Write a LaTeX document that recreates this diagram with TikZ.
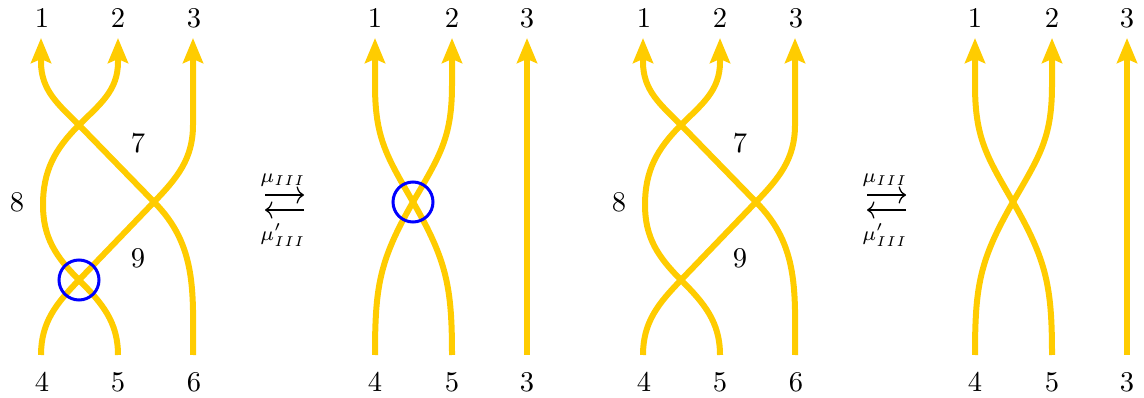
\documentclass[tikz,border=0pt]{standalone}
\usepackage{amsmath}
\usetikzlibrary{arrows.meta}
\definecolor{strandyellow}{RGB}{255,204,0}
\definecolor{ringblue}{RGB}{0,0,255}
\tikzset{
  strand/.style={line width=2.1pt, draw=strandyellow},
  tipstrand/.style={strand, -{Stealth[length=8.75pt,width=7pt,inset=1.4pt]}},
  lab/.style={inner sep=0pt},
  movelab/.style={inner sep=0pt, font=\scriptsize},
  movearrow/.style={line width=0.45pt, -{To[length=2.6pt,width=6pt]}},
  ring/.style={draw=ringblue, line width=1.05pt, circle, minimum size=14pt, inner sep=0pt},
}
\newcommand\mydiagThree[1]{%
  \coordinate (bA#1) at (41,-355);
  \coordinate (bB#1) at (118,-355);
  \coordinate (bC#1) at (193,-355);
  \coordinate (tA#1) at (193,-38);
  \coordinate (tB#1) at (118,-38);
  \coordinate (tC#1) at (41,-38);
  \coordinate (xa#1) at (79,-280);
  \coordinate (xb#1) at (154,-202);
  \coordinate (xc#1) at (79,-125);
  \coordinate (kA#1) at (193,-125);
  \coordinate (wB#1) at (43,-205);
  \coordinate (nB#1) at (118,-62);
  \coordinate (nC#1) at (41,-62);
  \draw[tipstrand] (bA#1) to[out=90,in=226] (xa#1) -- (xb#1) to[out=46,in=-90] (kA#1) -- (tA#1);
  \draw[tipstrand] (bB#1) to[out=90,in=-45] (xa#1) to[out=135,in=-90] (wB#1) to[out=90,in=225] (xc#1) to[out=45,in=-90] (nB#1) -- (tB#1);
  \draw[tipstrand] (bC#1) to[out=90,in=-45] (xb#1) -- (xc#1) to[out=135,in=-90] (nC#1) -- (tC#1);
  \node[lab] (la#1) at (42,-18) {1};
  \node[lab] (lb#1) at (118,-18) {2};
  \node[lab] (lc#1) at (194,-18) {3};
  \node[lab] (ld#1) at (42,-382) {4};
  \node[lab] (le#1) at (118,-382) {5};
  \node[lab] (lf#1) at (194,-382) {6};
  \node[lab] (lg#1) at (138,-143) {7};
  \node[lab] (lh#1) at (17,-202) {8};
  \node[lab] (li#1) at (138,-258) {9};
}
\newcommand\mydiagTwo[1]{%
  \coordinate (bA#1) at (375,-355);
  \coordinate (bB#1) at (452,-355);
  \coordinate (bC#1) at (527,-355);
  \coordinate (tA#1) at (452,-38);
  \coordinate (tB#1) at (375,-38);
  \coordinate (tC#1) at (527,-38);
  \coordinate (x#1) at (413,-202);
  \coordinate (nA#1) at (452,-85);
  \coordinate (nB#1) at (375,-85);
  \draw[tipstrand] (bA#1) to[out=90,in=240,looseness=1.1] (x#1) to[out=60,in=-90,looseness=1.1] (nA#1) -- (tA#1);
  \draw[tipstrand] (bB#1) to[out=90,in=-60,looseness=1.1] (x#1) to[out=120,in=-90,looseness=1.1] (nB#1) -- (tB#1);
  \draw[tipstrand] (bC#1) -- (tC#1);
  \node[lab] (la#1) at (375,-18) {1};
  \node[lab] (lb#1) at (452,-18) {2};
  \node[lab] (lc#1) at (527,-18) {3};
  \node[lab] (ld#1) at (375,-382) {4};
  \node[lab] (le#1) at (452,-382) {5};
  \node[lab] (lf#1) at (527,-382) {3};
}
\newcommand\mymoves[1]{%
  \node[movelab] (mu#1) at (283,-180) {$\mu_{III}$};
  \node[movelab] (mup#1) at (283,-235) {$\mu'_{III}$};
  \coordinate (ra#1) at (265,-195);
  \coordinate (rb#1) at (304,-195);
  \coordinate (la#1) at (265,-210);
  \coordinate (lb#1) at (304,-210);
  \draw[movearrow] (ra#1) -- (rb#1);
  \draw[movearrow] (lb#1) -- (la#1);
}
\begin{document}
\begin{tikzpicture}[x=0.35pt,y=0.35pt]
  \useasboundingbox (0,0) rectangle (1144,-398);
  \mydiagThree{P}
  \node[ring] (ringP) at (xaP) {};
  \mymoves{M}
  \mydiagTwo{Q}
  \node[ring] (ringQ) at (xQ) {};
  \begin{scope}[shift={(602,0)}]
    \mydiagThree{R}
    \mymoves{N}
  \end{scope}
  \begin{scope}[shift={(600,0)}]
    \mydiagTwo{S}
  \end{scope}
\end{tikzpicture}
\end{document}
